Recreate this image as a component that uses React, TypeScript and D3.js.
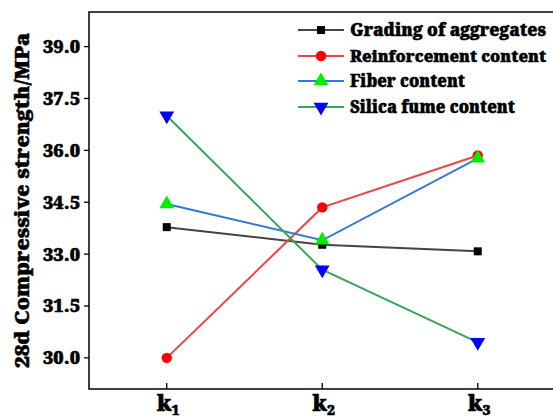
import React from "react";
import * as d3 from "d3";

const categories = ["k1", "k2", "k3"];
const seriesNames = ["Grading of aggregates", "Reinforcement content", "Fiber content", "Silica fume content"];
const grading = [33.78, 33.27, 33.08];
const reinforcement = [30.0, 34.35, 35.85];
const fiber = [34.45, 33.4, 35.77];
const silica = [37.0, 32.55, 30.45];
const yTicks = [30.0, 31.5, 33.0, 34.5, 36.0, 37.5, 39.0];

const W = 553, H = 418;
const left = 89, top = 12, bottom = 389, right = 555;
const FONT = "Noto Serif";

const lineColors = ["#444444", "#ee4444", "#3377dd", "#3aa35c"];
const markerColors = ["#000000", "#ff0000", "#00ee00", "#0000ff"];
const markerTypes = [d3.symbolSquare, d3.symbolCircle, d3.symbolTriangle, d3.symbolTriangle];
const markerSizes = [64, 85, 95, 95];
const data = [grading, reinforcement, fiber, silica];
const legendWidths = [196, 196, 115, 165];
const legendFont = [17.3, 16.4, 17.3, 17.3];

const bold = { fontWeight: 900, stroke: "#000", strokeWidth: 0.45 } as const;

export default function App() {
  const x = d3.scaleLinear().domain([0.5, 3.5]).range([left, left + 3 * 155.5]);
  const y = d3.scaleLinear().domain([29.1, 40.0]).range([bottom, top]);
  const line = d3.line<number>().x((_, i) => x(i + 1)).y((v) => y(v));

  const marker = (k: number, cx: number, cy: number, key: string) => {
    const rot = k === 3 ? 180 : 0;
    const sym = d3.symbol().type(markerTypes[k]).size(markerSizes[k])();
    return (
      <path key={key} d={sym || ""} fill={markerColors[k]} transform={`translate(${cx},${cy}) rotate(${rot})`} />
    );
  };

  const legendX0 = 298, legendX1 = 344, legendTextX = 350;
  const legendY = [30, 56, 81, 107];

  return (
    <svg width={W} height={H} style={{ position: "absolute", left: 0, top: 0, background: "#fff", fontFamily: FONT }}>
      <rect x={0} y={0} width={W} height={H} fill="#fff" />
      <rect x={left} y={top} width={right - left} height={bottom - top} fill="none" stroke="#000" strokeWidth={1.5} />
      {yTicks.map((t) => (
        <g key={t}>
          <line x1={left - 5} x2={left} y1={y(t)} y2={y(t)} stroke="#000" strokeWidth={1.3} />
          <text x={80} y={y(t) + 6.5} textAnchor="end" fontSize={18.5} {...bold}
            textLength={37} lengthAdjust="spacingAndGlyphs">{t.toFixed(1)}</text>
        </g>
      ))}
      {categories.map((c, i) => (
        <g key={c}>
          <line x1={x(i + 1)} x2={x(i + 1)} y1={bottom} y2={bottom - 6} stroke="#000" strokeWidth={1.3} />
          <text x={x(i + 1) - 10} y={411} fontSize={22} {...bold}>
            {c[0]}
            <tspan fontSize={14} dy={4}>{c.slice(1)}</tspan>
          </text>
        </g>
      ))}
      <text transform={`translate(29,${(33 + 368) / 2}) rotate(-90)`} textAnchor="middle" fontSize={20} {...bold}
        textLength={335} lengthAdjust="spacingAndGlyphs">
        28d Compressive strength/MPa
      </text>
      {data.map((s, k) => (
        <path key={"l" + k} d={line(s) || ""} fill="none" stroke={lineColors[k]} strokeWidth={2} />
      ))}
      {data.map((s, k) => s.map((v, i) => marker(k, x(i + 1), y(v), `m${k}-${i}`)))}
      {seriesNames.map((n, k) => (
        <g key={n}>
          <line x1={legendX0} x2={legendX1} y1={legendY[k]} y2={legendY[k]} stroke={lineColors[k]} strokeWidth={2} />
          {marker(k, (legendX0 + legendX1) / 2, legendY[k], "lm" + k)}
          <text x={legendTextX} y={legendY[k] + 6.2} fontSize={legendFont[k]} {...bold}
            textLength={legendWidths[k]} lengthAdjust="spacingAndGlyphs">
            {n}
          </text>
        </g>
      ))}
    </svg>
  );
}
